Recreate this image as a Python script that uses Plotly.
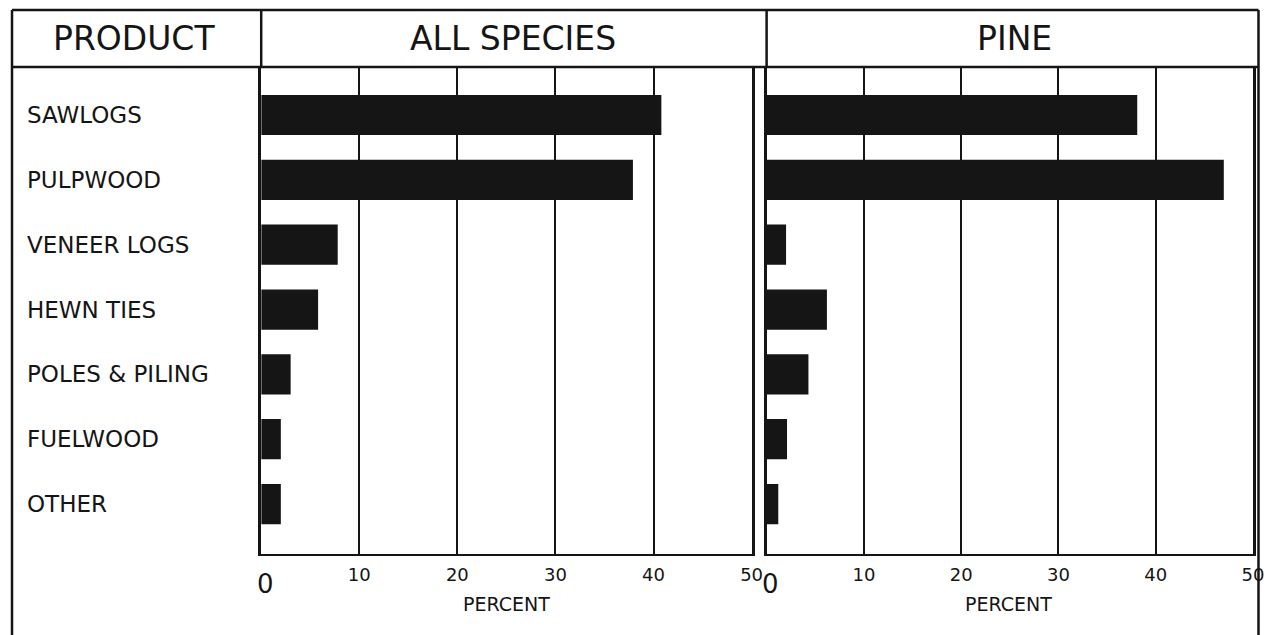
import plotly.graph_objects as go

# effective rendered width of the figure (the capture shows ~1259 px of figure)
W, H = 1259, 635

categories = ["SAWLOGS", "PULPWOOD", "VENEER LOGS", "HEWN TIES",
              "POLES & PILING", "FUELWOOD", "OTHER"]
all_species = [40.8, 37.9, 7.8, 5.8, 3.0, 2.0, 2.0]
pine = [38.1, 47.0, 2.0, 6.2, 4.3, 2.1, 1.2]
tick_vals = [10, 20, 30, 40, 50]
tick_text = ["10", "20", "30", "40", "50"]
headers = ["PRODUCT", "ALL SPECIES", "PINE"]
axis_title = "PERCENT"

FONT = "DejaVu Sans"
INK = "#151515"

def px(x):
    return min(x / W, 1.0)

def py(y):
    return 1 - y / H

fig = go.Figure()
fig.add_trace(go.Bar(x=all_species, y=categories, orientation="h",
                     marker=dict(color=INK, line=dict(width=0)), width=0.62,
                     xaxis="x", yaxis="y", showlegend=False))
fig.add_trace(go.Bar(x=pine, y=categories, orientation="h",
                     marker=dict(color=INK, line=dict(width=0)), width=0.62,
                     xaxis="x2", yaxis="y2", showlegend=False))

xcommon = dict(range=[0, 50], tickvals=tick_vals, ticktext=tick_text,
               showgrid=True, gridcolor=INK, gridwidth=2,
               showline=True, linecolor=INK, linewidth=2, mirror=False,
               zeroline=False, ticks="", ticklabelstandoff=3,
               tickfont=dict(family=FONT, size=18, color=INK), fixedrange=True)
ycommon = dict(type="category", categoryorder="array", categoryarray=categories,
               range=[6.77, -0.74], showticklabels=False, showgrid=False,
               showline=True, linecolor=INK, linewidth=2.5, mirror=True,
               zeroline=False, ticks="", fixedrange=True,
               domain=[py(554), py(67)])

fig.update_layout(
    autosize=True, margin=dict(l=0, r=0, t=0, b=0, pad=0),
    paper_bgcolor="white", plot_bgcolor="white", bargap=0.38,
    xaxis=dict(domain=[px(261), px(751)], anchor="y", **xcommon),
    xaxis2=dict(domain=[px(766), px(1252)], anchor="y2", **xcommon),
    yaxis=dict(anchor="x", **ycommon),
    yaxis2=dict(anchor="x2", **ycommon),
)

def txt(text, x, y, size, xref="paper", yref="paper", xanchor="center"):
    return dict(text=text, x=x, y=y, xref=xref, yref=yref, xanchor=xanchor,
                yanchor="middle", showarrow=False,
                font=dict(family=FONT, size=size, color=INK))

ann = []
ann.append(txt(headers[0], px(134), py(39), 33))
ann.append(txt(headers[1], px(513), py(39), 33))
ann.append(txt(headers[2], px(1014), py(39), 33))
for c in categories:
    ann.append(txt(c, px(25), c, 23, yref="y", xanchor="left"))
for xr in ["x", "x2"]:
    ann.append(txt("0", 0.4, py(584), 26, xref=xr))
ann.append(txt(axis_title, px(506), py(604), 19))
ann.append(txt(axis_title, px(1008), py(604), 19))
fig.update_layout(annotations=ann)

lw = 2.5
RB = 1257.5
lines = [
    (12, 10, RB, 10),     # top border
    (12, 10, 12, 635),    # left border
    (RB, 10, RB, 635),    # right border
    (12, 67, RB, 67),     # header bottom
    (261, 10, 261, 67),   # product divider
    (766, 10, 766, 67),   # species / pine divider
]
shapes = []
for x0, y0, x1, y1 in lines:
    shapes.append(dict(type="line", xref="paper", yref="paper",
                       x0=px(x0), y0=py(y0), x1=px(x1), y1=py(y1),
                       line=dict(color=INK, width=lw)))
fig.update_layout(shapes=shapes)

fig.write_html("out.html",
               default_width="100vw", default_height="100vh",
               config={"displayModeBar": False, "responsive": True},
               post_script="document.body.style.margin='0';"
                           "document.body.style.overflow='hidden';"
                           "window.dispatchEvent(new Event('resize'));")
